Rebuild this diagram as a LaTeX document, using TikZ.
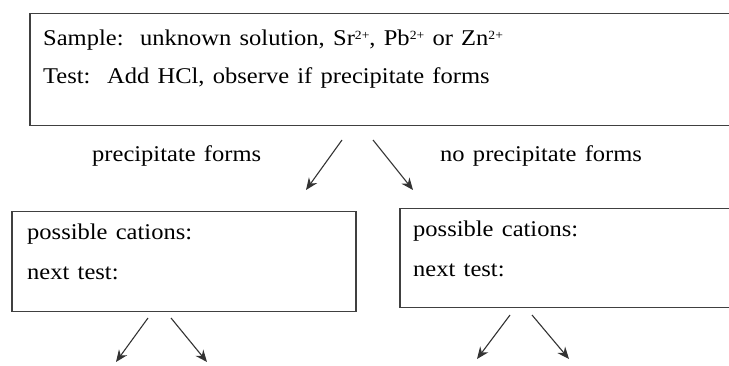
\documentclass[tikz,border=0pt]{standalone}
\usepackage{fontspec}
\setmainfont[FakeStretch=1.09,WordSpace=1.35]{Liberation Serif}
\usetikzlibrary{arrows.meta}
\newcommand{\ionch}[1]{\raisebox{0.62ex}{\fontsize{12.5}{13}\selectfont #1}}
\begin{document}
\begin{tikzpicture}[x=1pt,y=-1pt,
  box/.style={draw=black!75, line width=1.5pt, anchor=north west, inner sep=0pt},
  txt/.style={anchor=base west, inner sep=0pt, text=black, font=\fontsize{22.5}{27}\selectfont},
  arr/.style={draw=black!80, line width=1.1pt, -{Stealth[length=12pt,width=10pt]}}]
\useasboundingbox (0,0) rectangle (729,366);
% top box
\node[box, minimum width=740pt, minimum height=112pt] (top) at (29,13) {};
\node[txt] (l1) at (43,46) {Sample:\ \ unknown solution, Sr\ionch{2+}, Pb\ionch{2+} or Zn\ionch{2+}};
\node[txt] (l2) at (43,84) {Test:\ \ Add HCl, observe if precipitate forms};
% branch labels
\node[txt] (pf) at (92,162) {precipitate forms};
\node[txt] (npf) at (440,162) {no precipitate forms};
% top arrows
\coordinate (a1s) at (342,140); \coordinate (a1e) at (306,190);
\coordinate (a2s) at (373,140); \coordinate (a2e) at (413,190);
\draw[arr] (a1s) -- (a1e);
\draw[arr] (a2s) -- (a2e);
% lower boxes
\node[box, minimum width=344pt, minimum height=100pt] (lb) at (11,211) {};
\node[txt] (lb1) at (27,240) {possible cations:};
\node[txt] (lb2) at (27,280) {next test:};
\node[box, minimum width=360pt, minimum height=99pt] (rb) at (399,208) {};
\node[txt] (rb1) at (413,237) {possible cations:};
\node[txt] (rb2) at (413,277) {next test:};
% lower arrows
\coordinate (b1s) at (148,318); \coordinate (b1e) at (116,362);
\coordinate (b2s) at (171,318); \coordinate (b2e) at (207,362);
\coordinate (c1s) at (510,315); \coordinate (c1e) at (477,359);
\coordinate (c2s) at (532,315); \coordinate (c2e) at (569,359);
\draw[arr] (b1s) -- (b1e);
\draw[arr] (b2s) -- (b2e);
\draw[arr] (c1s) -- (c1e);
\draw[arr] (c2s) -- (c2e);
\end{tikzpicture}
\end{document}
